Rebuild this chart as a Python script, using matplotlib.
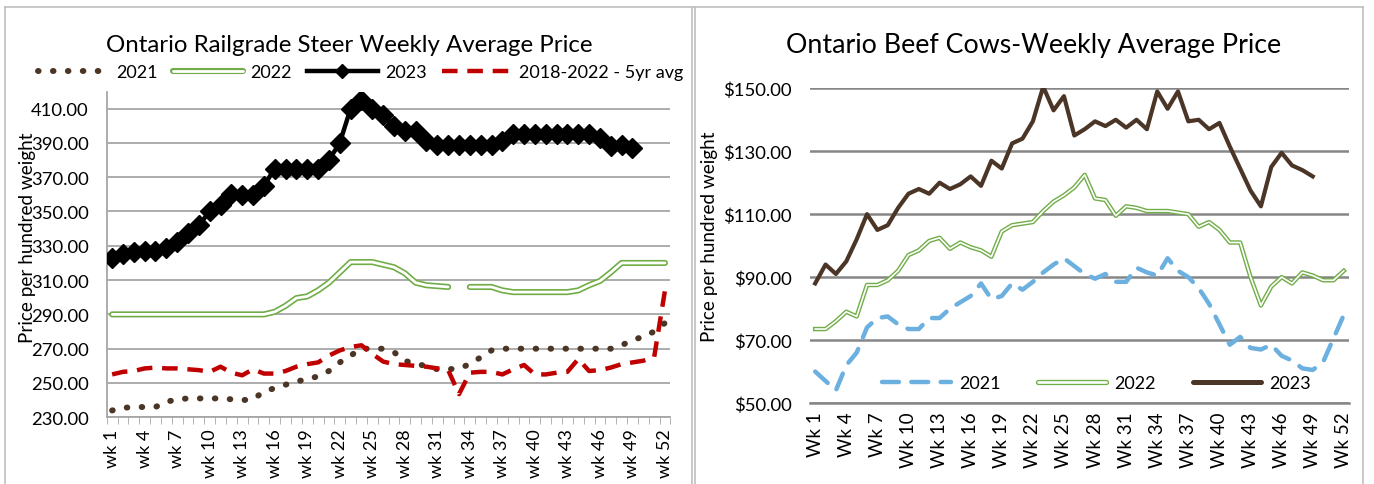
import matplotlib
matplotlib.use("Agg")
import matplotlib.pyplot as plt
import matplotlib.ticker as ticker
from matplotlib.lines import Line2D
import numpy as np

plt.rcParams['font.family'] = ['Lato', 'DejaVu Sans']

# ---- data: left chart (Ontario railgrade steer, $/cwt) ----
weeks = np.arange(1, 53)
steer_2021 = [234, 235.5, 236, 236, 236, 239, 240.5, 241, 241, 241, 241, 240.5, 240, 240.5,
              245, 247, 249, 251, 252, 254, 257, 262, 266, 270, 270, 270, 268, 263, 261, 260,
              258, 258, 258.5, 261, 265, 269, 270, 270, 270, 270, 270, 270, 270, 270, 270, 270,
              270, 272, 275, 277, 280, 285]
steer_2022 = [290, 290, 290, 290, 290, 290, 290, 290, 290, 290, 290, 290, 290, 290, 290,
              291.5, 295, 299.5, 300.5, 304, 308.5, 314.5, 320.5, 320.5, 320.5, 319, 317.5, 314,
              308.5, 307, 306.5, 306, np.nan, 306, 306, 306, 304, 303, 303, 303, 303, 303,
              303, 304, 307, 309.5, 314.5, 320, 320, 320, 320, 320]
steer_2023 = [323, 325, 326.5, 327, 327, 329, 332, 337.5, 342, 350, 354, 360, 359.5, 359.5,
              365, 375, 375, 375, 375, 375, 380, 390, 410, 415, 410, 406, 400, 397, 397, 391,
              389, 389, 389, 389, 389, 389, 391, 395, 395, 395, 395, 395, 395, 395, 395, 393,
              388, 389, 387]
steer_5yr = [255, 256.5, 257, 258.5, 259, 258.5, 258.5, 258, 257.5, 256.5, 259.5, 256, 254.5,
             258, 255.5, 255.5, 257, 259.5, 261, 262, 266, 269, 271, 272, 267, 262.5, 261,
             260.5, 260, 259.5, 258.5, 257.5, 243.5, 256, 256.5, 256.5, 255, 258, 260.5, 255,
             255, 256, 256.5, 264, 257, 257.5, 259, 261, 262, 263, 265, 304]

# ---- data: right chart (Ontario beef cows, $/cwt) ----
cows_2021 = [60, 57, 54, 62, 66, 74, 77, 77.5, 75, 73.5, 73.5, 77, 77, 80, 82, 84, 88, 83, 84,
             88, 86, 88.5, 91.5, 94, 96, 93.5, 91, 89.5, 91, 88.5, 88.5, 93, 91.5, 90.5, 96, 92,
             90, 86.5, 81.5, 75, 68.5, 71, 67.5, 67, 68.5, 65, 63.5, 61, 60.5, 63, 70.5, 78]
cows_2022 = [73.5, 73.5, 76, 79, 77.5, 87.5, 87.5, 89, 92, 97, 98.5, 101.5, 102.5, 99, 101,
             99.5, 98.5, 96.5, 104.5, 106.5, 107, 107.5, 111, 114, 116, 118.5, 122.5, 115, 114.5,
             109.5, 112.5, 112, 111, 111, 111, 110.5, 110, 106, 107.5, 105, 101, 101, 90, 81,
             87, 90, 88, 91.5, 90.5, 89, 89, 92]
cows_2023 = [88, 94, 91, 95, 102, 110, 105, 106.5, 112, 116.5, 118, 116.5, 120, 118, 119.5,
             122, 119, 127, 124.5, 132.5, 134, 139.5, 150.5, 143, 147.5, 135, 137, 139.5, 138,
             140, 137.5, 140, 137, 149, 143.5, 149, 139.5, 140, 137, 139, 131.5, 124.5, 117.5,
             112.5, 125, 129.5, 125.5, 124, 122]

W, H = 1374, 485
fig = plt.figure(figsize=(W / 100, H / 100), dpi=100)


def px(x0, y0, x1, y1):
    # pixel box (top-left origin) -> figure fraction rect
    return [x0 / W, 1 - y1 / H, (x1 - x0) / W, (y1 - y0) / H]


# chart borders
border = '#bfbfbf'
for xs, ys in [([5, 1363], [8, 8]), ([5, 5], [8, 485]), ([692, 692], [8, 485]),
               ([695, 695], [8, 485]), ([1363, 1363], [8, 485])]:
    fig.add_artist(Line2D([x / W for x in xs], [1 - y / H for y in ys], color=border, lw=1.2))

brown = '#4b3526'
green = '#70ad47'
red = '#c00000'
blue = '#6cb0e0'
grid_l = '#a6a6a6'
dots = (0, (0.1, 2.4))
fs = 13.3

# ---------------- left chart ----------------
ax = fig.add_axes(px(106.7, 93.3, 670.4, 418.3))
ax.plot(weeks, steer_2021, color=brown, lw=4.3, linestyle=dots,
        dash_capstyle='round', zorder=3)
ax.plot(weeks, steer_2022, color=green, lw=4.4, solid_capstyle='round', zorder=4)
ax.plot(weeks, steer_2022, color='white', lw=2.0, solid_capstyle='round', zorder=4)
ax.plot(weeks[:len(steer_2023)], steer_2023, color='black', lw=3.2, marker='D', ms=10,
        zorder=5)
ax.plot(weeks, steer_5yr, color=red, lw=3.2, linestyle=(0, (3.5, 2.2)), zorder=6)

ax.set_xlim(0.5, 52.5)
ax.set_ylim(230, 419.5)
ax.set_yticks(np.arange(230, 411, 20))
ax.yaxis.set_major_formatter(ticker.FormatStrFormatter('%.2f'))
ax.set_xticks(weeks[::3])
ax.set_xticklabels([f'wk {w}' for w in weeks[::3]], rotation=90)
ax.set_xticks(np.arange(0.5, 53, 1), minor=True)
ax.tick_params(axis='x', which='major', length=0, pad=8, labelsize=13)
ax.tick_params(axis='x', which='minor', length=5, color=grid_l, direction='out')
ax.tick_params(axis='y', length=0, pad=13, labelsize=fs)
ax.grid(True, axis='y', color=grid_l, lw=1.3)
ax.set_axisbelow(True)
for s in ['top', 'right']:
    ax.spines[s].set_visible(False)
for s in ['left', 'bottom']:
    ax.spines[s].set_color(grid_l)
    ax.spines[s].set_linewidth(1.3)

fig.text(349.5 / W, 1 - 45 / H, 'Ontario Railgrade Steer Weekly Average Price',
         ha='center', va='center', fontsize=17.3)
fig.text(28 / W, 1 - 238 / H, 'Price per hundred weight', rotation=90,
         ha='center', va='center', fontsize=13.6)

left_handles = [
    Line2D([], [], color=brown, lw=4.3, linestyle=dots, dash_capstyle='round'),
    (Line2D([], [], color=green, lw=4.4, solid_capstyle='round'),
     Line2D([], [], color='white', lw=2.0, solid_capstyle='round')),
    Line2D([], [], color='black', lw=3.2, marker='D', ms=7),
    Line2D([], [], color=red, lw=3.2, linestyle=(0, (3.5, 2.2))),
]
ax.legend(left_handles, ['2021', '2022', '2023', '2018-2022 - 5yr avg'],
          loc='center', bbox_to_anchor=(0.451, 1.0625), ncol=4, frameon=False,
          fontsize=13, handlelength=3.9, handletextpad=0.4, columnspacing=0.85,
          borderaxespad=0)

# ---------------- right chart ----------------
ax2 = fig.add_axes(px(810, 89.3, 1349, 404))
grid_r = '#868686'
ax2.plot(weeks, cows_2021, color=blue, lw=3.2, linestyle=(0, (3.8, 2.8)),
         dash_capstyle='round', zorder=3)
ax2.plot(weeks, cows_2022, color=green, lw=3.2, zorder=4)
ax2.plot(weeks, cows_2022, color='white', lw=1.2, zorder=4)
ax2.plot(weeks[:len(cows_2023)], cows_2023, color=brown, lw=3.0, zorder=5)

ax2.set_xlim(0.5, 52.5)
ax2.set_ylim(50, 150)
ax2.set_yticks(np.arange(50, 151, 20))
ax2.yaxis.set_major_formatter(ticker.FormatStrFormatter('$%.2f'))
ax2.set_xticks(weeks[::3])
ax2.set_xticklabels([f'Wk {w}' for w in weeks[::3]], rotation=90)
ax2.tick_params(axis='x', length=0, pad=6, labelsize=13.5)
ax2.tick_params(axis='y', length=0, pad=13, labelsize=fs)
ax2.grid(True, axis='y', color=grid_r, lw=1.8)
ax2.set_axisbelow(True)
for s in ['top', 'right', 'left']:
    ax2.spines[s].set_visible(False)
ax2.spines['bottom'].set_color(grid_r)
ax2.spines['bottom'].set_linewidth(1.8)

fig.text(1034 / W, 1 - 46 / H, 'Ontario Beef Cows-Weekly Average Price',
         ha='center', va='center', fontsize=19.3)
fig.text(710 / W, 1 - 237 / H, 'Price per hundred weight', rotation=90,
         ha='center', va='center', fontsize=13.6)

right_handles = [
    Line2D([], [], color=blue, lw=3.2, linestyle=(0, (3.8, 2.8)), dash_capstyle='round'),
    (Line2D([], [], color=green, lw=3.8, solid_capstyle='round'),
     Line2D([], [], color='white', lw=1.9, solid_capstyle='round')),
    Line2D([], [], color=brown, lw=3.6, solid_capstyle='round'),
]
ax2.legend(right_handles, ['2021', '2022', '2023'], loc='center',
           bbox_to_anchor=(0.532, 0.064), ncol=3, frameon=False, fontsize=13,
           handlelength=3.8, handletextpad=0.45, columnspacing=2.05, borderaxespad=0)

fig.savefig('out.png', dpi=100)
